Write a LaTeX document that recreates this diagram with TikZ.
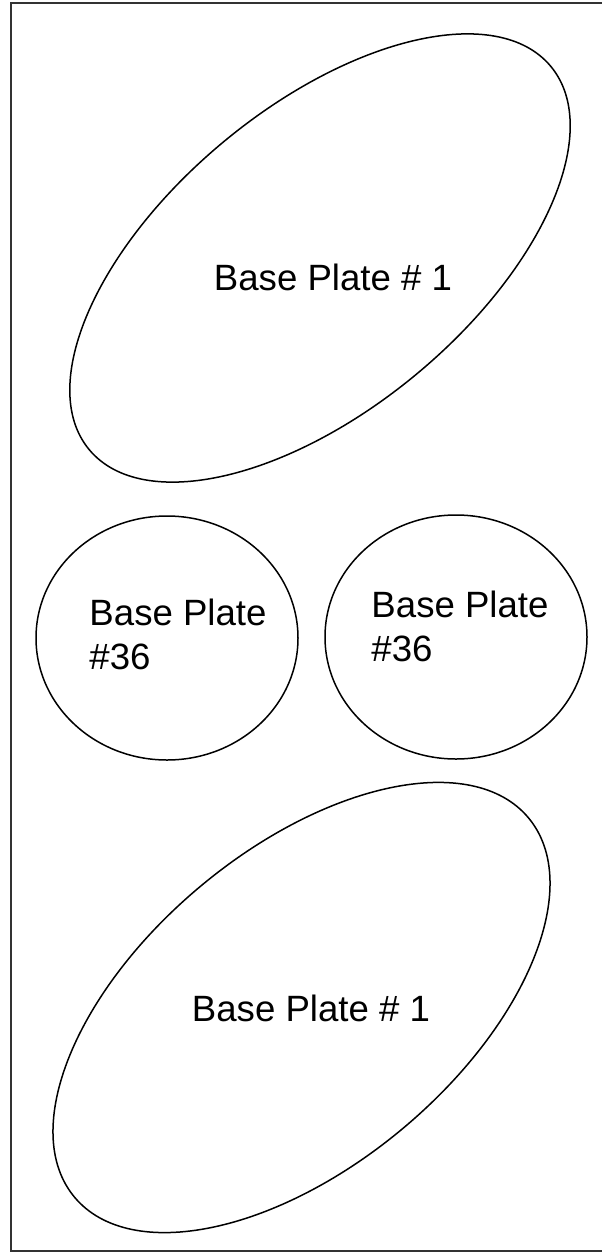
\documentclass[tikz,border=0pt]{standalone}
\usepackage{fontspec}
\setmainfont{Liberation Sans}
\usepackage{tikz}

\tikzset{
  plate/.style={line width=1.5pt, black},
  plate label/.style={inner sep=0pt, align=left, font=\fontsize{36.6}{44}\selectfont},
}

\begin{document}
\begin{tikzpicture}[x=1pt, y=-1pt]
    \pgfmathsetmacro{\rx}{131}
    \pgfmathsetmacro{\ry}{122}
    \clip (0, 0) rectangle (602, 1253);
    \draw[line width=1.6pt, black!80] (11, 3) rectangle (620, 1251);
    % tilted plates
    \draw[plate, rotate around={39.7:(320, 258)}] (320, 258) ellipse [x radius=300, y radius=151];
    \node[plate label] (topplate) at (333, 277) {Base Plate \# 1};
    \draw[plate, rotate around={39.9:(301.5, 1007.5)}] (301.5, 1007.5) ellipse [x radius=295.8, y radius=157.8];
    \node[plate label] (bottomplate) at (311, 1008) {Base Plate \# 1};
    % round plates
    \draw[plate] (167, 638) ellipse [x radius=\rx, y radius=\ry];
    \node[plate label] (leftplate) at (178, 634) {Base Plate\\\#36};
    \draw[plate] (456, 637) ellipse [x radius=\rx, y radius=\ry];
    \node[plate label] (rightplate) at (460, 626.5) {Base Plate\\\#36};
\end{tikzpicture}
\end{document}
